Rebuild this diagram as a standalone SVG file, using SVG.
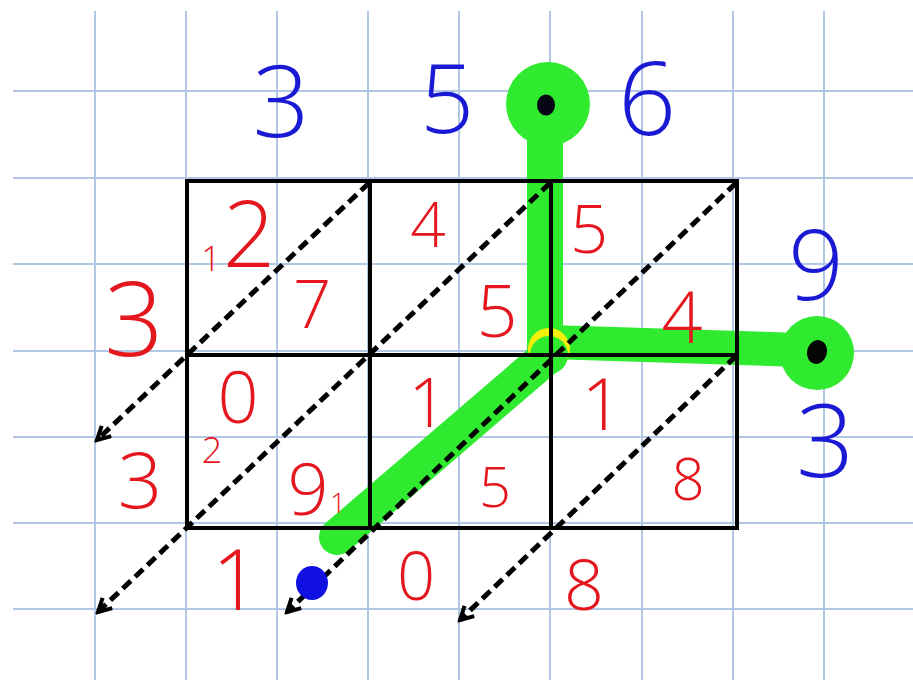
<svg xmlns="http://www.w3.org/2000/svg" width="913" height="680" viewBox="0 0 913 680">
<style>
.grid line{stroke:#b2c7e6;stroke-width:2}
.box{fill:none;stroke:#000;stroke-width:4}
.dash{fill:none;stroke:#000;stroke-width:5;stroke-dasharray:11 6;marker-end:url(#arr)}
.g{stroke:#2fea2f;stroke-linecap:round;fill:none}
text{font-family:"Open Sans","Liberation Sans",Arial,sans-serif;font-weight:300;text-anchor:middle}
.r{fill:#e4161e}
.b{fill:#1a1ad4}
</style>
<defs>
<marker id="arr" markerWidth="18" markerHeight="18" refX="15" refY="9" orient="auto" markerUnits="userSpaceOnUse">
<path d="M2,2 L15,9 L2,16" fill="none" stroke="#000" stroke-width="4"/>
</marker>
</defs>
<rect width="913" height="680" fill="#ffffff"/>
<g class="grid" id="grid">
<line x1="95" y1="11" x2="95" y2="680"/>
<line x1="186" y1="11" x2="186" y2="680"/>
<line x1="277" y1="11" x2="277" y2="680"/>
<line x1="368" y1="11" x2="368" y2="680"/>
<line x1="459" y1="11" x2="459" y2="680"/>
<line x1="550" y1="11" x2="550" y2="680"/>
<line x1="642" y1="11" x2="642" y2="680"/>
<line x1="733" y1="11" x2="733" y2="680"/>
<line x1="824" y1="11" x2="824" y2="680"/>
<line x1="13" y1="91" x2="913" y2="91"/>
<line x1="13" y1="178" x2="913" y2="178"/>
<line x1="13" y1="264" x2="913" y2="264"/>
<line x1="13" y1="351" x2="913" y2="351"/>
<line x1="13" y1="437" x2="913" y2="437"/>
<line x1="13" y1="523" x2="913" y2="523"/>
<line x1="13" y1="609" x2="913" y2="609"/>
</g>
<g id="highlight">
<circle cx="548" cy="104" r="42" fill="#2fea2f"/>
<line class="g" x1="545" y1="110" x2="545" y2="348" stroke-width="36"/>
<line class="g" x1="550" y1="342" x2="800" y2="350" stroke-width="34"/>
<circle cx="817" cy="353" r="37" fill="#2fea2f"/>
<line class="g" x1="550" y1="354" x2="337" y2="537" stroke-width="36"/>
<circle cx="549" cy="349" r="21" fill="#f4f00a"/>
<circle cx="549" cy="355" r="19" fill="#2fea2f"/>
<ellipse cx="546" cy="105" rx="9" ry="10.5" fill="#050514"/>
<ellipse cx="817" cy="352" rx="10" ry="12" transform="rotate(15 817 352)" fill="#050505"/>
</g>
<g id="lattice">
<rect class="box" x="187" y="181" width="550" height="347"/>
<line class="box" x1="370" y1="181" x2="370" y2="528"/>
<line class="box" x1="551" y1="181" x2="551" y2="528"/>
<line class="box" x1="187" y1="355" x2="737" y2="355"/>
</g>
<g id="connectors">
<line class="dash" x1="369" y1="183" x2="97" y2="440"/>
<line class="dash" x1="550" y1="183" x2="98" y2="612"/>
<line class="dash" x1="736" y1="183" x2="287" y2="612"/>
<line class="dash" x1="736" y1="356" x2="460" y2="620"/>
</g>
<ellipse id="dot" cx="312" cy="583" rx="16" ry="17" fill="#1010e0"/>
<g id="multiplicand">
<text class="b" x="281" y="137" font-size="100">3</text>
<text class="b" x="447" y="133" font-size="95">5</text>
<text class="b" x="647" y="135" font-size="102">6</text>
</g>
<g id="multiplier">
<text class="b" x="816" y="300" font-size="98">9</text>
<text class="b" x="825" y="477" font-size="102">3</text>
</g>
<g id="cells">
<text class="r" x="211" y="271" font-size="34">1</text>
<text class="r" x="249" y="267" font-size="92">2</text>
<text class="r" x="312" y="328" font-size="67">7</text>
<text class="r" x="428" y="247" font-size="62">4</text>
<text class="r" x="497" y="337" font-size="72">5</text>
<text class="r" x="589" y="253" font-size="67">5</text>
<text class="r" x="682" y="343" font-size="72">4</text>
<text class="r" x="238" y="423" font-size="72">0</text>
<text class="r" x="212" y="463" font-size="36">2</text>
<text class="r" x="308" y="515" font-size="72">9</text>
<text class="r" x="338" y="513" font-size="28">1</text>
<text class="r" x="428" y="427" font-size="68">1</text>
<text class="r" x="495" y="507" font-size="56">5</text>
<text class="r" x="602" y="430" font-size="72">1</text>
<text class="r" x="688" y="500" font-size="58">8</text>
</g>
<g id="result">
<text class="r" x="134" y="356" font-size="104">3</text>
<text class="r" x="140" y="508" font-size="78">3</text>
<text class="r" x="236" y="610" font-size="84">1</text>
<text class="r" x="416" y="600" font-size="67">0</text>
<text class="r" x="584" y="610" font-size="70">8</text>
</g>
</svg>
